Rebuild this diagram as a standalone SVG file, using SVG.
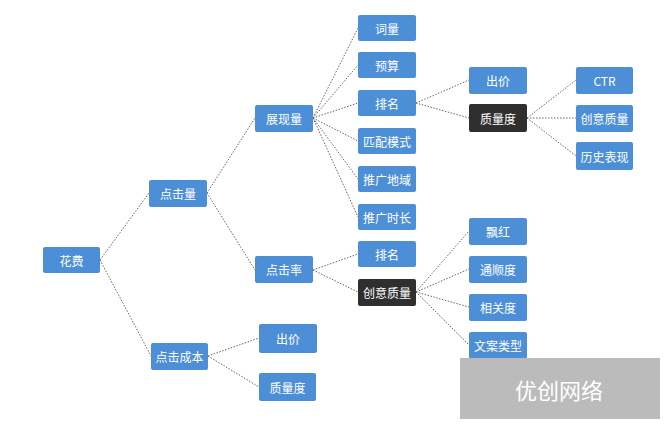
<svg xmlns="http://www.w3.org/2000/svg" width="665" height="424" viewBox="0 0 665 424">
<style>
.b{fill:#4d8fd6;}
.d{fill:#2f2f2f;}
.t{fill:#fff;font-family:"Noto Sans CJK SC","Liberation Sans",sans-serif;font-size:12px;text-anchor:middle;dominant-baseline:central;}
.c line{stroke:#666;stroke-width:1;stroke-dasharray:1.5 1.5;}
</style>
<rect width="665" height="424" fill="#fff"/>
<g class="c" id="connectors">
<line x1="100" y1="260" x2="149" y2="193"/>
<line x1="100" y1="260" x2="151" y2="356"/>
<line x1="207" y1="193" x2="255" y2="118"/>
<line x1="207" y1="193" x2="255" y2="270"/>
<line x1="313" y1="118" x2="358" y2="28"/>
<line x1="313" y1="118" x2="358" y2="65"/>
<line x1="313" y1="118" x2="358" y2="103"/>
<line x1="313" y1="118" x2="358" y2="141"/>
<line x1="313" y1="118" x2="358" y2="179"/>
<line x1="313" y1="118" x2="358" y2="217"/>
<line x1="416" y1="103" x2="469" y2="80"/>
<line x1="416" y1="103" x2="469" y2="118"/>
<line x1="527" y1="118" x2="576" y2="80"/>
<line x1="527" y1="118" x2="576" y2="118"/>
<line x1="527" y1="118" x2="576" y2="156"/>
<line x1="313" y1="270" x2="358" y2="254"/>
<line x1="313" y1="270" x2="358" y2="292"/>
<line x1="416" y1="292" x2="469" y2="231"/>
<line x1="416" y1="292" x2="469" y2="269"/>
<line x1="416" y1="292" x2="469" y2="307"/>
<line x1="416" y1="292" x2="469" y2="345"/>
<line x1="208" y1="356" x2="259" y2="338"/>
<line x1="208" y1="356" x2="259" y2="387"/>
</g>
<g id="n-huafei"><rect class="b" x="43" y="247" width="57" height="26" rx="2"/><text class="t" x="71.5" y="260">花费</text></g>
<g id="n-djl"><rect class="b" x="149" y="180" width="58" height="27" rx="2"/><text class="t" x="178" y="193.5">点击量</text></g>
<g id="n-djcb"><rect class="b" x="151" y="343" width="57" height="27" rx="2"/><text class="t" x="179.5" y="356.5">点击成本</text></g>
<g id="n-zxl"><rect class="b" x="255" y="105" width="58" height="27" rx="2"/><text class="t" x="284" y="118.5">展现量</text></g>
<g id="n-djlv"><rect class="b" x="255" y="256" width="58" height="27" rx="2"/><text class="t" x="284" y="269.5">点击率</text></g>
<g id="n-cl"><rect class="b" x="358" y="15" width="58" height="26" rx="2"/><text class="t" x="387" y="28">词量</text></g>
<g id="n-ys"><rect class="b" x="358" y="52" width="58" height="26" rx="2"/><text class="t" x="387" y="65">预算</text></g>
<g id="n-pm1"><rect class="b" x="358" y="90" width="58" height="26" rx="2"/><text class="t" x="387" y="103">排名</text></g>
<g id="n-ppms"><rect class="b" x="358" y="128" width="58" height="26" rx="2"/><text class="t" x="387" y="141">匹配模式</text></g>
<g id="n-tgdy"><rect class="b" x="358" y="166" width="58" height="26" rx="2"/><text class="t" x="387" y="179">推广地域</text></g>
<g id="n-tgsc"><rect class="b" x="358" y="204" width="58" height="26" rx="2"/><text class="t" x="387" y="217">推广时长</text></g>
<g id="n-pm2"><rect class="b" x="358" y="241" width="58" height="26" rx="2"/><text class="t" x="387" y="254">排名</text></g>
<g id="n-cyzl"><rect class="d" x="358" y="279" width="58" height="27" rx="2"/><text class="t" x="387" y="292.5">创意质量</text></g>
<g id="n-cj1"><rect class="b" x="469" y="67" width="58" height="27" rx="2"/><text class="t" x="498" y="80.5">出价</text></g>
<g id="n-zld1"><rect class="d" x="469" y="104" width="58" height="28" rx="2"/><text class="t" x="498" y="118">质量度</text></g>
<g id="n-ctr"><rect class="b" x="576" y="67" width="57" height="27" rx="2"/><text class="t" x="604.5" y="80.5">CTR</text></g>
<g id="n-cyzl2"><rect class="b" x="576" y="105" width="57" height="27" rx="2"/><text class="t" x="604.5" y="118.5">创意质量</text></g>
<g id="n-lsbx"><rect class="b" x="576" y="142" width="57" height="28" rx="2"/><text class="t" x="604.5" y="156">历史表现</text></g>
<g id="n-ph"><rect class="b" x="469" y="218" width="58" height="27" rx="2"/><text class="t" x="498" y="231.5">飘红</text></g>
<g id="n-tsd"><rect class="b" x="469" y="256" width="58" height="27" rx="2"/><text class="t" x="498" y="269.5">通顺度</text></g>
<g id="n-xgd"><rect class="b" x="469" y="294" width="58" height="27" rx="2"/><text class="t" x="498" y="307.5">相关度</text></g>
<g id="n-walx"><rect class="b" x="469" y="332" width="58" height="27" rx="2"/><text class="t" x="498" y="345.5">文案类型</text></g>
<g id="n-cj2"><rect class="b" x="259" y="324" width="58" height="29" rx="2"/><text class="t" x="288" y="338.5">出价</text></g>
<g id="n-zld2"><rect class="b" x="259" y="373" width="57" height="28" rx="2"/><text class="t" x="287.5" y="387">质量度</text></g>
<g id="watermark"><rect x="460" y="358" width="200" height="61" fill="#bbbbbb"/><text x="559" y="389" fill="#fff" font-family="Noto Sans CJK SC, sans-serif" font-size="22" text-anchor="middle" dominant-baseline="central">优创网络</text></g>
</svg>
